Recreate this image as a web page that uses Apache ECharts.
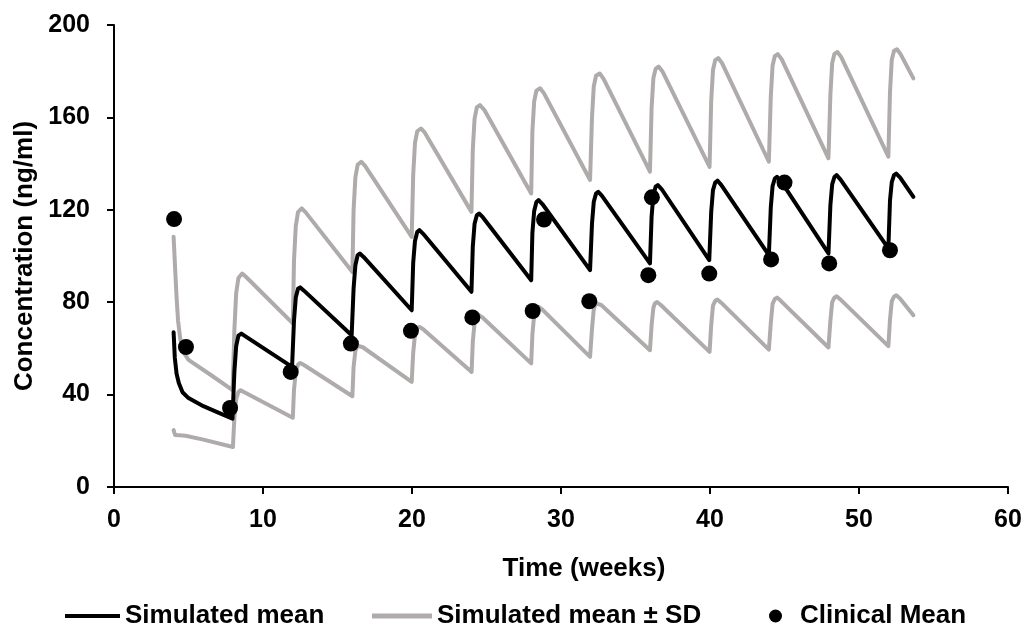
<!DOCTYPE html>
<html>
<head>
<meta charset="utf-8">
<script src="https://cdn.jsdelivr.net/npm/echarts@6/dist/echarts.min.js"></script>
<style>
html,body{margin:0;padding:0;background:#fff;}
#chart{width:1029px;height:628px;}
</style>
</head>
<body>
<div id="chart"></div>
<script>
// Axis ticks
var xTicks = [0, 10, 20, 30, 40, 50, 60];
var yTicks = [0, 40, 80, 120, 160, 200];

// Series names
var seriesNames = ['Simulated mean', 'Simulated mean \u00b1 SD', 'Clinical Mean'];

// Simulated mean [week, ng/ml]
var simMean = [
  [4.0,67],[4.08,56],[4.2,49],[4.35,45],[4.6,41],[5.0,38.5],[6.0,35],[7.0,32.2],[7.95,29.6],
  [8.08,50],[8.2,61],[8.35,65.5],[8.55,66.4],[8.8,65.3],[11.95,52],
  [12.08,72],[12.2,82],[12.35,85.8],[12.5,86.4],[12.75,85],[15.95,65.7],
  [16.08,86],[16.2,96],[16.35,100.3],[16.5,101.1],[16.75,99.6],[19.98,76.5],
  [20.08,97],[20.2,106.5],[20.35,110.4],[20.5,111.2],[20.75,109.6],[23.99,84.5],
  [24.08,104],[24.2,114],[24.35,117.6],[24.5,118.4],[24.75,116.8],[28.0,89.5],
  [28.08,110],[28.2,119.5],[28.35,123.4],[28.5,124.2],[28.75,122.5],[31.95,93.9],
  [32.08,114],[32.2,123.5],[32.35,127],[32.5,127.8],[32.75,126],[35.97,96.8],
  [36.08,117],[36.2,126.5],[36.35,130],[36.5,130.7],[36.75,129],[39.95,98.2],
  [40.08,119],[40.2,128.5],[40.35,131.8],[40.5,132.6],[40.75,130.8],[43.95,100.4],
  [44.08,121],[44.2,130.3],[44.35,133.5],[44.5,134.3],[44.75,132.5],[47.95,101.1],
  [48.08,122],[48.2,131],[48.35,134.2],[48.5,135],[48.75,133.2],[51.97,103.3],
  [52.08,124],[52.2,132],[52.35,135],[52.5,135.7],[52.75,134],[53.65,125.6]
];

// Simulated mean + SD
var simUpper = [
  [4.0,108.3],[4.1,95],[4.2,82],[4.3,72],[4.45,64],[4.7,58],[5.0,55],[6.5,48.5],[7.96,41.9],
  [8.08,68],[8.2,84],[8.35,90.5],[8.6,92.4],[8.85,91],[12.0,70.8],
  [12.08,98],[12.2,113],[12.35,119],[12.6,120.6],[12.85,119],[16.0,93.1],
  [16.08,120],[16.2,134],[16.35,139.5],[16.6,140.8],[16.85,139],[19.98,108.3],
  [20.08,135],[20.2,149],[20.35,154],[20.6,155.2],[20.85,153.5],[23.99,119.1],
  [24.08,146],[24.2,159.5],[24.35,164.3],[24.56,165.3],[24.85,163.3],[28.0,127.1],
  [28.08,154],[28.2,167],[28.35,171.6],[28.6,172.6],[28.85,170.5],[31.95,132.9],
  [32.08,160],[32.2,173.5],[32.35,178],[32.6,179],[32.85,176.8],[35.97,136.5],
  [36.08,164],[36.2,177],[36.35,181],[36.55,182],[36.8,180],[39.97,138.6],
  [40.08,167],[40.2,180.5],[40.35,184.8],[40.55,185.7],[40.8,183.6],[43.95,140.8],
  [44.08,169],[44.2,182.5],[44.35,186.5],[44.55,187.4],[44.8,185.3],[47.95,142.3],
  [48.08,170],[48.2,183.5],[48.35,187.5],[48.55,188.3],[48.8,186.2],[51.97,143],
  [52.08,171],[52.2,185],[52.35,188.8],[52.55,189.5],[52.8,187.3],[53.65,176.9]
];

// Simulated mean - SD
var simLower = [
  [4.0,24.6],[4.1,22.5],[4.2,21.7],[4.4,22.4],[4.8,22.2],[6.0,20.5],[7.98,17.3],
  [8.08,30],[8.2,38],[8.35,41.2],[8.5,41.9],[8.75,41],[12.0,30],
  [12.08,42],[12.2,50],[12.35,53],[12.5,53.7],[12.75,52.8],[16.0,39.3],
  [16.08,52],[16.2,59],[16.35,61.2],[16.45,61.5],[16.7,60.5],[19.98,45.5],
  [20.08,58],[20.2,66],[20.35,68.7],[20.5,69.3],[20.75,68.3],[24.0,49.8],
  [24.08,63],[24.2,71],[24.35,73.8],[24.5,74.4],[24.75,73.3],[28.0,53.5],
  [28.08,66],[28.2,74.5],[28.35,77.4],[28.5,78],[28.75,76.8],[31.95,56.3],
  [32.08,68.5],[32.2,77],[32.35,79.5],[32.45,80.1],[32.7,78.8],[35.97,59.2],
  [36.08,70],[36.2,77.5],[36.3,79.5],[36.45,80.1],[36.7,78.8],[39.97,58.5],
  [40.08,70],[40.2,78.5],[40.35,80.6],[40.5,81.2],[40.75,79.8],[43.95,59.5],
  [44.08,71],[44.2,79.3],[44.35,81.4],[44.5,82],[44.75,80.6],[47.95,60.4],
  [48.08,72],[48.2,80],[48.35,82],[48.5,82.6],[48.75,81.2],[51.97,61],
  [52.08,72.5],[52.2,80.5],[52.35,82.4],[52.5,83],[52.75,81.6],[53.65,74.4]
];

// Clinical mean observations
var clinical = [
  [4.03,116],[4.83,60.6],[7.79,34.2],[11.86,49.8],[15.9,62.1],[19.93,67.6],
  [24.05,73.4],[28.1,76.2],[28.86,115.8],[31.9,80.4],[35.86,91.7],[36.1,125.4],
  [39.95,92.4],[44.1,98.5],[45.0,131.8],[48.0,96.8],[52.08,102.5]
];

var FONT = "'Liberation Sans', Arial, Helvetica, sans-serif";
var GRAY = '#afabab';

var chart = echarts.init(document.getElementById('chart'), null, {renderer: 'canvas'});

var legendText = {fontFamily: FONT, fontWeight: 'bold', fontSize: 26, color: '#000'};

var option = {
  animation: false,
  backgroundColor: '#fff',
  grid: {left: 114, right: 21, top: 25, bottom: 141, containLabel: false},
  legend: [
    {data: [{name: seriesNames[0], icon: 'rect', itemStyle: {color: '#000'}}], left: 65, top: 603, padding: 0,
      itemWidth: 55, itemHeight: 4, textStyle: legendText, selectedMode: false},
    {data: [{name: seriesNames[1], icon: 'rect', itemStyle: {color: GRAY}}], left: 372, top: 603, padding: 0,
      itemWidth: 60, itemHeight: 5, textStyle: legendText, selectedMode: false},
    {data: [{name: seriesNames[2], icon: 'circle', itemStyle: {color: '#000', opacity: 1}}], left: 769, top: 603, padding: 0,
      itemWidth: 13, itemHeight: 13,
      textStyle: Object.assign({}, legendText, {padding: [0, 0, 0, 13]}), selectedMode: false}
  ],
  xAxis: {
    type: 'value', min: xTicks[0], max: xTicks[xTicks.length - 1], interval: 10,
    name: 'Time (weeks)', nameLocation: 'middle', nameGap: 69,
    nameTextStyle: {fontFamily: FONT, fontWeight: 'bold', fontSize: 26, color: '#000', padding: [0, 0, 0, 46]},
    axisLine: {show: true, onZero: false, lineStyle: {color: '#000', width: 2}},
    axisTick: {show: true, inside: false, length: 7, lineStyle: {color: '#000', width: 2}},
    axisLabel: {fontFamily: FONT, fontWeight: 'bold', fontSize: 25, color: '#000', margin: 21},
    splitLine: {show: false}
  },
  yAxis: {
    type: 'value', min: yTicks[0], max: yTicks[yTicks.length - 1], interval: 40,
    name: 'Concentration (ng/ml)', nameLocation: 'middle', nameGap: 76, nameRotate: 90,
    nameTextStyle: {fontFamily: FONT, fontWeight: 'bold', fontSize: 26, color: '#000'},
    axisLine: {show: true, lineStyle: {color: '#000', width: 2}},
    axisTick: {show: true, inside: false, length: 7, lineStyle: {color: '#000', width: 2}},
    axisLabel: {fontFamily: FONT, fontWeight: 'bold', fontSize: 25, color: '#000', margin: 24},
    splitLine: {show: false}
  },
  series: [
    {name: seriesNames[1], type: 'line', data: simUpper, symbol: 'none', showSymbol: false,
      lineStyle: {color: GRAY, width: 4, cap: 'round', join: 'round'}, itemStyle: {color: GRAY}, z: 2},
    {name: seriesNames[1], type: 'line', data: simLower, symbol: 'none', showSymbol: false,
      lineStyle: {color: GRAY, width: 4, cap: 'round', join: 'round'}, itemStyle: {color: GRAY}, z: 2},
    {name: seriesNames[0], type: 'line', data: simMean, symbol: 'none', showSymbol: false,
      lineStyle: {color: '#000', width: 4, cap: 'round', join: 'round'}, itemStyle: {color: '#000'}, z: 3},
    {name: seriesNames[2], type: 'scatter', data: clinical, symbol: 'circle', symbolSize: 16,
      itemStyle: {color: '#000', opacity: 1}, z: 4}
  ]
};

chart.setOption(option);
</script>
</body>
</html>
